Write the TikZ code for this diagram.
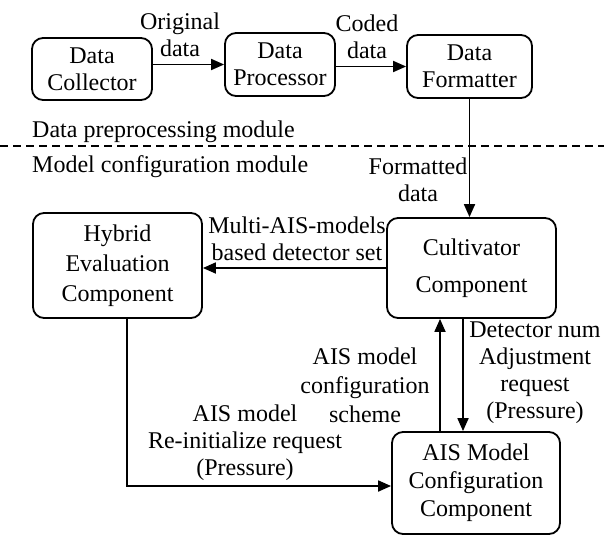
\documentclass[tikz,border=0pt]{standalone}
\usepackage{fontspec}
\setmainfont{Liberation Serif}
\usetikzlibrary{arrows.meta}
\begin{document}
\begin{tikzpicture}[x=1pt,y=-1pt,
  box/.style={draw,line width=1.8pt,rounded corners=11pt,align=center,inner sep=0pt,font=\fontsize{24}{27}\selectfont},
  lbl/.style={align=center,inner sep=0pt,font=\fontsize{24}{27}\selectfont},
  conn/.style={line width=1.8pt,-{Triangle[length=13pt,width=11pt]}},
]
\useasboundingbox (0,0) rectangle (604,536);
% top row
\node[box,minimum width=120pt,minimum height=62pt] (col) at (92,69) {Data\\Collector};
\node[box,minimum width=110pt,minimum height=63pt] (proc) at (280,64.5) {Data\\Processor};
\node[box,minimum width=125pt,minimum height=63pt] (fmt) at (469.5,66.5) {Data\\Formatter};
% middle
\node[box,minimum width=169pt,minimum height=105pt,font=\fontsize{24}{30}\selectfont] (hyb) at (117.5,265.5) {Hybrid\\Evaluation\\Component};
\node[box,minimum width=169pt,minimum height=100pt,font=\fontsize{24}{37}\selectfont] (cult) at (471.5,268) {Cultivator\\Component};
\node[box,minimum width=168pt,minimum height=102pt,font=\fontsize{24}{28}\selectfont] (ais) at (476,483) {AIS Model\\Configuration\\Component};
% labels
\node[lbl] (l1) at (180,34.5) {Original\\data};
\node[lbl] (l2) at (367,37) {Coded\\data};
\node[lbl,anchor=west] (m1) at (32,132) {Data preprocessing module};
\node[lbl,anchor=west] (m2) at (32,167) {Model configuration module};
\node[lbl] (l3) at (418,180) {Formatted\\data};
\node[lbl] (l4) at (297,239) {Multi-AIS-models\\based detector set};
\node[lbl,font=\fontsize{24}{29}\selectfont] (l5) at (365,385) {AIS model\\configuration\\scheme};
\node[lbl] (l6) at (535,373) {Detector num\\Adjustment\\request\\(Pressure)};
\node[lbl] (l7) at (245,443) {AIS model\\Re-initialize request\\(Pressure)};
% dashed separator
\coordinate (dl) at (0,146);
\coordinate (dr) at (604,146);
\draw[line width=1.5pt,dash pattern=on 8pt off 5pt] (dl) -- (dr);
% connectors
\draw[conn] (col.east |- proc.west) -- (proc.west);
\draw[conn] (proc.east |- fmt.west) -- (fmt.west);
\draw[conn] (fmt.south) -- (fmt.south |- cult.north);
\draw[conn] (cult.west) -- (cult.west -| hyb.east);
\coordinate (u1) at ([xshift=-36pt]ais.north);
\draw[conn] (u1) -- (u1 |- cult.south);
\coordinate (d1) at ([xshift=-13pt]ais.north);
\draw[conn] (d1 |- cult.south) -- (d1);
\coordinate (h1) at ([xshift=9.5pt]hyb.south);
\coordinate (a1) at ([yshift=-3pt]ais.west);
\draw[conn] (h1) |- (a1);
\end{tikzpicture}
\end{document}
